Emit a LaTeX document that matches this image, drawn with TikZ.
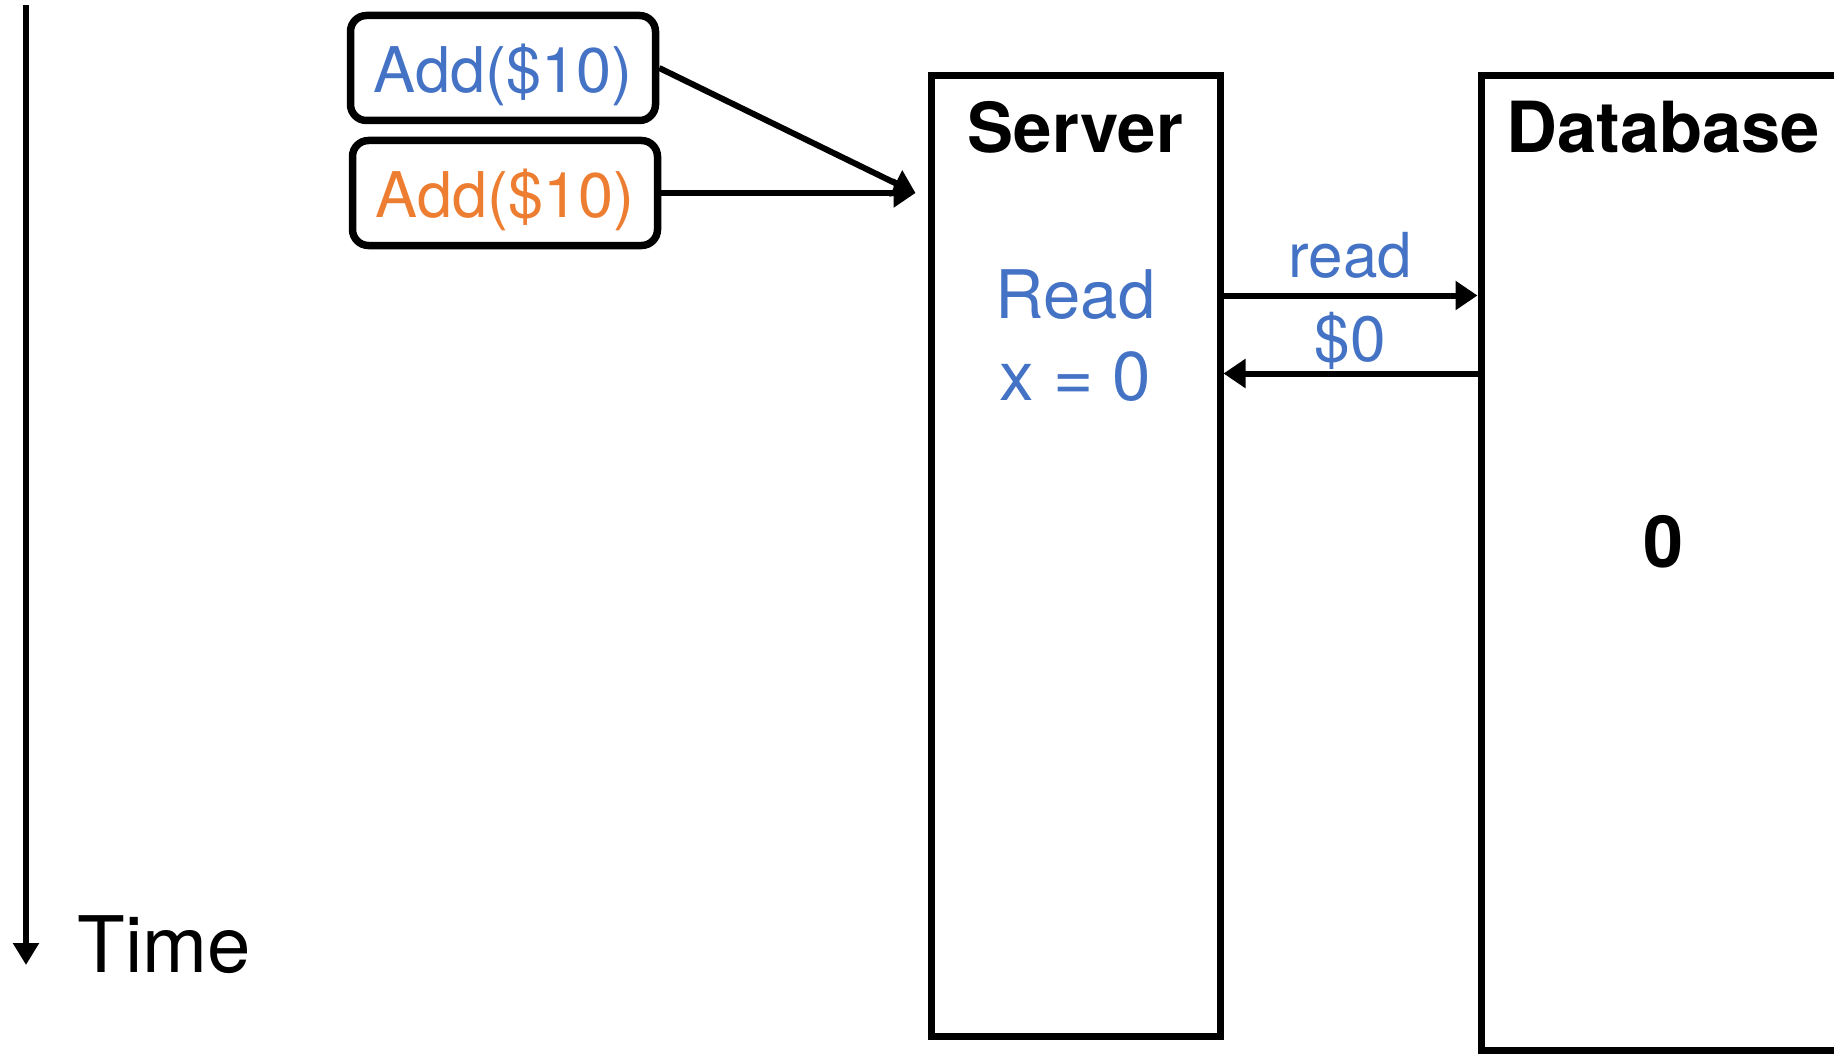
\documentclass[tikz,border=0pt]{standalone}
\usepackage{fontspec}
\setmainfont{TeX Gyre Heros}
\usetikzlibrary{arrows.meta,positioning}
\definecolor{addblue}{RGB}{68,114,196}
\definecolor{addorange}{RGB}{237,125,49}
\tikzstyle{opbox}=[draw, line width=7.5pt, rounded corners=16pt, minimum width=305pt,
  minimum height=105pt, inner sep=0pt, text depth=0pt, font=\fontsize{63}{63}\selectfont]
\tikzstyle{frame}=[draw, line width=7pt, inner sep=0pt]
\tikzstyle{title}=[anchor=base, font=\fontsize{69}{69}\selectfont\bfseries]
\tikzstyle{step2}=[anchor=base, text=addblue, font=\fontsize{67}{67}\selectfont]
\tikzstyle{msg}=[line width=6pt, -{Triangle[length=22pt,width=28pt]}]

\begin{document}
\begin{tikzpicture}[x=1pt, y=-1pt]
        \useasboundingbox (0,0) rectangle (1834,1054);
        \coordinate (ttop) at (26,5);
        \coordinate (tbot) at (26,965);
        \draw[line width=6.5pt, -{Triangle[length=22pt,width=25pt]}] (ttop) -- (tbot);
        \node[anchor=base west, font=\fontsize{78}{78}\selectfont] (time) at (74,972) {Time};
        \node[opbox, text=addblue] (add1) at (503,68) {Add(\$10)};
        \node[opbox, text=addorange] (add2) at (505,193) {Add(\$10)};
        \node[frame, minimum width=289pt, minimum height=960pt] (server) at (1075.5,556) {};
        \node[frame, minimum width=364pt, minimum height=974pt] (db) at (1663,563) {};
        \node[title] (stitle) at ([yshift=-80pt]server.north) {Server};
        \node[title, font=\fontsize{70.5}{70}\selectfont\bfseries] (dtitle) at ([yshift=-80pt]db.north) {Database};
        \node[step2] (rd) at ([yshift=-246pt]server.north) {Read};
        \node[step2, font=\fontsize{69}{69}\selectfont] (xval) at ([yshift=-328pt]server.north) {x = 0};
        \node[title, font=\fontsize{72}{72}\selectfont\bfseries] (dval) at ([yshift=-495pt]db.north) {0};
        \coordinate (in) at ([xshift=-12pt]server.west |- add2.east);
        \draw[msg] (add1.east) -- (in);
        \draw[msg] (add2.east) -- (in);
        \draw[msg] ([yshift=-223pt]server.north east) -- ([yshift=-223pt]db.north west)
          node[midway, anchor=base, yshift=18pt, text=addblue, font=\fontsize{62}{62}\selectfont] {read};
        \draw[msg] ([yshift=-301pt]db.north west) -- ([yshift=-301pt]server.north east)
          node[midway, anchor=base, yshift=12pt, text=addblue, font=\fontsize{64}{64}\selectfont] {\$0};
    \end{tikzpicture}
\end{document}
